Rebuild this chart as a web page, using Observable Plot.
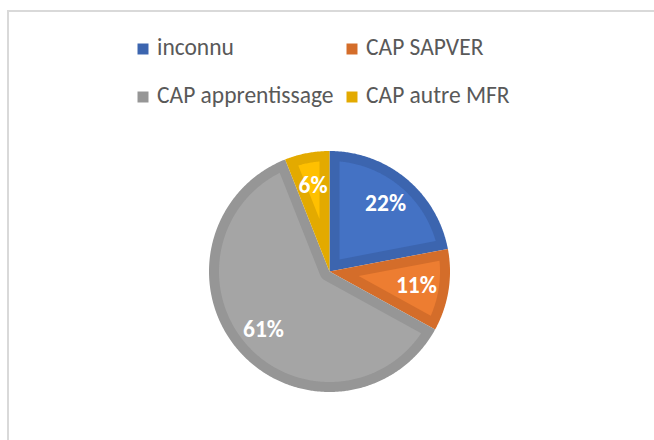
<!DOCTYPE html>
<html>
<head>
<meta charset="utf-8">
<script src="https://cdn.jsdelivr.net/npm/d3@7"></script>
<script src="https://cdn.jsdelivr.net/npm/@observablehq/plot@0.6"></script>
<style>
  html, body { margin: 0; padding: 0; background: #fff; }
  #wrap { position: relative; width: 654px; height: 440px; overflow: hidden; }
  #frame { position: absolute; left: 7px; top: 10px; width: 700px; height: 500px;
           border-left: 2px solid #d9d9d9; border-top: 2px solid #d9d9d9; }
  #chart { position: absolute; left: 0; top: 0; }
</style>
</head>
<body>
<div id="wrap"><div id="frame"></div><div id="chart"></div></div>
<script>
// ---- data ----
const categories = ["inconnu", "CAP SAPVER", "CAP apprentissage", "CAP autre MFR"];
const values = [22, 11, 61, 6];
const baseColors = ["#4472C4", "#ED7D31", "#A5A5A5", "#FFC000"];
const edgeColors = ["#3C65AF", "#D46D2A", "#969696", "#E3AA00"];

// ---- layout ----
const W = 654, H = 440;
const cx = 329, cy = 271, R = 120.5, inset = 10;
const labelRadius = 0.73 * R;
const font = "Carlito, Calibri, Lato, sans-serif";

const pie = d3.pie().sort(null).value(d => d.value);
const arcs = pie(categories.map((c, i) => ({name: c, value: values[i], i})));
const total = d3.sum(values);

const pt = (a, r) => [cx + r * Math.sin(a), cy - r * Math.cos(a)];
const arcPts = (a0, a1, r) => {
  const n = Math.max(2, Math.ceil((a1 - a0) / 0.01));
  return d3.range(n + 1).map(k => pt(a0 + (a1 - a0) * k / n, r));
};

const outerRows = [], innerRows = [];
arcs.forEach(s => {
  const {startAngle: a0, endAngle: a1} = s;
  const i = s.data.i;
  [[cx, cy], ...arcPts(a0, a1, R)].forEach(([x, y]) =>
    outerRows.push({key: "o" + i, x, y, fill: edgeColors[i]}));
  const Ri = R - inset, t = Math.sqrt(Ri * Ri - inset * inset), delta = Math.atan2(inset, t);
  const theta = a1 - a0;
  let poly;
  if (theta < Math.PI) {
    poly = [pt((a0 + a1) / 2, inset / Math.sin(theta / 2)), ...arcPts(a0 + delta, a1 - delta, Ri)];
  } else {
    const circ = arcPts(a0 + Math.PI / 2, a1 - Math.PI / 2, inset).reverse();
    poly = [...arcPts(a0 + delta, a1 - delta, Ri), ...circ];
  }
  poly.forEach(([x, y]) => innerRows.push({key: "i" + i, x, y, fill: baseColors[i]}));
});

const labels = arcs.map(s => {
  const [x, y] = pt((s.startAngle + s.endAngle) / 2, labelRadius);
  return {x, y, text: Math.round(s.data.value / total * 100) + "%"};
});

// legend (2 x 2)
const legendCols = [142.5, 351.5], legendRows = [48.5, 96.5];
const legend = categories.map((c, i) => ({
  name: c,
  x: legendCols[i % 2],
  y: legendRows[Math.floor(i / 2)],
  fill: edgeColors[i]
}));

const chart = Plot.plot({
  width: W, height: H,
  margin: 0,
  x: {domain: [0, W], range: [0, W], axis: null},
  y: {domain: [0, H], range: [0, H], axis: null},
  color: {type: "identity"},
  style: {background: "transparent", fontFamily: font},
  marks: [
    Plot.line(outerRows, {x: "x", y: "y", z: "key", fill: "fill", stroke: "none", curve: "linear"}),
    Plot.line(innerRows, {x: "x", y: "y", z: "key", fill: "fill", stroke: "none", curve: "linear"}),
    Plot.text(labels, {x: "x", y: "y", text: "text", fill: "white", fontSize: 23.5, fontWeight: "bold", fontFamily: font}),
    Plot.dot(legend, {x: "x", y: "y", symbol: "square", r: 6.2, fill: "fill", stroke: "none"}),
    Plot.text(legend, {x: "x", y: "y", text: "name", dx: 14, dy: -1.5, textAnchor: "start", fill: "#595959", fontSize: 23.5, fontFamily: font})
  ]
});
document.getElementById("chart").appendChild(chart);
</script>
</body>
</html>
